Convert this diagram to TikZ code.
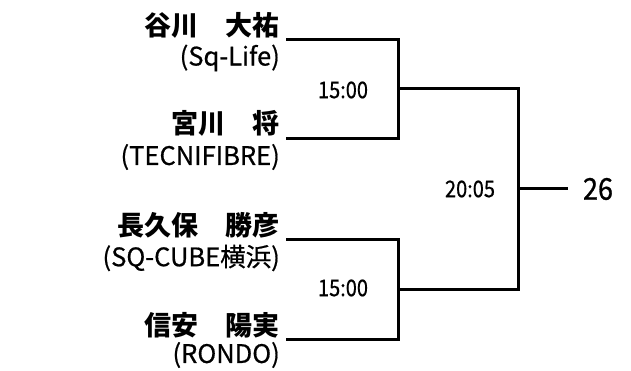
\documentclass[tikz,border=0pt]{standalone}
\usepackage{fontspec}
\newfontfamily\jp{Noto Sans CJK JP}
\newfontfamily\jpn{Noto Sans CJK JP}[FakeBold=0.6]
\newfontfamily\jpnarrow{Noto Sans CJK JP}[FakeBold=0.6,FakeStretch=0.87]
\newfontfamily\jpfinal{Noto Sans CJK JP}[FakeBold=0.8,FakeStretch=0.9]
\tikzset{
  namelbl/.style={anchor=east, inner sep=0pt, font=\jp\bfseries\fontsize{27}{27}\selectfont},
  teamlbl/.style={anchor=east, inner sep=0pt, font=\jpn\fontsize{25.5}{25.5}\selectfont},
  scorelbl/.style={inner sep=0pt, font=\jpnarrow\fontsize{23}{23}\selectfont},
  finallbl/.style={inner sep=0pt, font=\jpfinal\fontsize{30}{30}\selectfont},
  bracket/.style={line width=3pt, draw=black}
}
\begin{document}
\begin{tikzpicture}[x=1pt,y=-1pt]
\useasboundingbox (0,0) rectangle (631,371);
% names
\node[namelbl] (n1) at (280,25) {谷川　大祐};
\node[teamlbl] (t1) at (280,58) {(Sq-Life)};
\node[namelbl] (n2) at (280,123) {宮川　将};
\node[teamlbl] (t2) at (280,157) {(TECNIFIBRE)};
\node[namelbl] (n3) at (280,225) {長久保　勝彦};
\node[teamlbl] (t3) at (280,258) {(SQ-CUBE横浜)};
\node[namelbl] (n4) at (280,325) {信安　陽実};
\node[teamlbl] (t4) at (280,355) {(RONDO)};
% bracket points
\coordinate (p1) at (286,40);
\coordinate (p2) at (286,139);
\coordinate (p3) at (286,239);
\coordinate (p4) at (286,339);
\coordinate (v1) at (398,89);
\coordinate (v2) at (398,289);
\coordinate (f) at (518,189);
\coordinate (out) at (568,189);
\draw[bracket] (p1) -| (v1) |- (p2);
\draw[bracket] (p3) -| (v2) |- (p4);
\draw[bracket] (v1) -| (f) |- (v2);
\draw[bracket] (f) -- (out);
% scores
\node[scorelbl] (s1) at (343,90) {15:00};
\node[scorelbl] (s2) at (343,288) {15:00};
\node[scorelbl] (s3) at (470,189) {20:05};
\node[finallbl] (w) at (598,189) {26};
\end{tikzpicture}
\end{document}
